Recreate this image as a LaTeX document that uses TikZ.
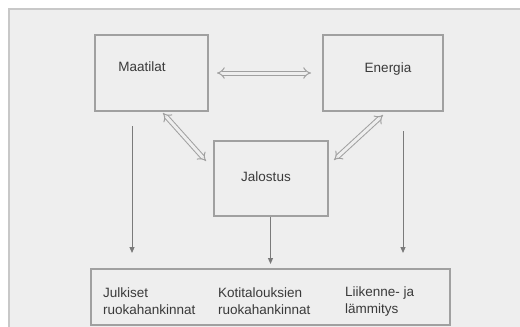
\documentclass[tikz,border=0pt]{standalone}
\usepackage{fontspec}
\setmainfont{Liberation Sans}
\usetikzlibrary{arrows.meta}
\definecolor{bgc}{HTML}{EEEEEE}
\definecolor{bgedge}{HTML}{C8C8C8}
\definecolor{boxedge}{HTML}{A0A0A0}
\definecolor{txt}{HTML}{3A3A3A}
\definecolor{arr}{HTML}{7A7A7A}
\tikzset{
  boxnode/.style={draw=boxedge, line width=1.2pt, rectangle, inner sep=0pt},
  lbl/.style={text=txt, font=\fontsize{13.5}{17}\selectfont, inner sep=0pt},
  lbll/.style={lbl, anchor=west, align=left},
  downarr/.style={draw=arr, line width=1pt, -{Triangle[width=5pt,length=6pt]}},
  hollow/.style={draw=boxedge, double=bgc, double distance=3pt, line width=1pt, {Implies[scale=1.25]}-{Implies[scale=1.25]}}
}
\begin{document}
\begin{tikzpicture}[x=1pt,y=-1pt]
\useasboundingbox (0,0) rectangle (520,327);
\fill[white] (0,0) rectangle (520,327);
\fill[bgc] (9,9) rectangle (521,328);
\draw[bgedge, line width=1.4pt] (9,328) -- (9,9) -- (521,9);
% boxes
\node[boxnode, minimum width=113pt, minimum height=76pt] (maat) at (151.5,73) {};
\node[boxnode, minimum width=120pt, minimum height=76pt] (ener) at (383,73) {};
\node[boxnode, minimum width=114pt, minimum height=75pt] (jalo) at (271,178.5) {};
\node[boxnode, minimum width=359pt, minimum height=56pt] (bott) at (270.5,297) {};
% texts
\node[lbl] (tmaat) at (142,67) {Maatilat};
\node[lbl] (tener) at (388,69) {Energia};
\node[lbl] (tjalo) at (266,177) {Jalostus};
\node[lbll] (t1) at (103,301.5) {Julkiset\\ruokahankinnat};
\node[lbll] (t2) at (218,301.5) {Kotitalouksien\\ruokahankinnat};
\node[lbll] (t3) at (345,301.5) {Liikenne- ja\\lämmitys};
% coordinates
\coordinate (h1) at (217,73);
\coordinate (h2) at (311,73);
\coordinate (d1a) at (163,113);
\coordinate (d1b) at (206,161);
\coordinate (d2a) at (383,115);
\coordinate (d2b) at (334,160);
\coordinate (a1s) at (132,126);
\coordinate (a1e) at (132,253);
\coordinate (a2e) at (270.5,264);
\coordinate (a3s) at (403,131);
\coordinate (a3e) at (403,253);
% arrows
\draw[hollow] (h1) -- (h2);
\draw[hollow] (d1a) -- (d1b);
\draw[hollow] (d2a) -- (d2b);
\draw[downarr] (a1s) -- (a1e);
\draw[downarr] (jalo.south -| a2e) -- (a2e);
\draw[downarr] (a3s) -- (a3e);
\end{tikzpicture}
\end{document}
